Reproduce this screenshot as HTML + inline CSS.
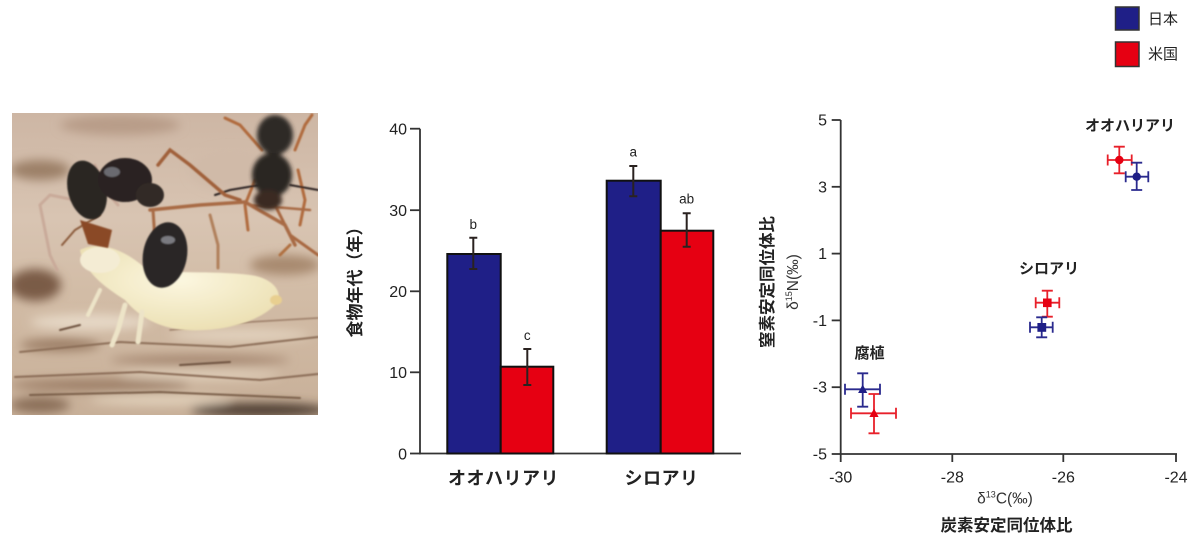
<!DOCTYPE html>
<html><head><meta charset="utf-8">
<style>
html,body{margin:0;padding:0;background:#fff;}
svg{display:block;}
text{font-family:"Liberation Sans","Noto Sans CJK JP",sans-serif;fill:#222;}
</style></head>
<body>
<svg width="1200" height="542" viewBox="0 0 1200 542" xmlns="http://www.w3.org/2000/svg">
<defs>
  <linearGradient id="bg" x1="0" y1="0" x2="0" y2="1">
    <stop offset="0" stop-color="#cdb6a4"/>
    <stop offset="0.35" stop-color="#d8c4b2"/>
    <stop offset="0.6" stop-color="#d2bca6"/>
    <stop offset="1" stop-color="#c8b099"/>
  </linearGradient>
  <radialGradient id="term" cx="0.5" cy="0.4" r="0.6">
    <stop offset="0" stop-color="#fcf7e0"/>
    <stop offset="1" stop-color="#ece0b4"/>
  </radialGradient>
  <filter id="b2"><feGaussianBlur stdDeviation="2"/></filter>
  <filter id="b5"><feGaussianBlur stdDeviation="5"/></filter>
  <filter id="b1"><feGaussianBlur stdDeviation="0.8"/></filter>
  <clipPath id="pc"><rect x="12" y="113" width="306" height="302"/></clipPath>
</defs>

<!-- PHOTO -->
<g clip-path="url(#pc)">
  <rect x="12" y="113" width="306" height="302" fill="url(#bg)"/>
  <g filter="url(#b5)">
    <ellipse cx="40" cy="170" rx="30" ry="10" fill="#9c8068"/>
    <ellipse cx="120" cy="125" rx="60" ry="10" fill="#b89c88"/>
    <ellipse cx="35" cy="285" rx="26" ry="16" fill="#7a5c46"/>
    <ellipse cx="230" cy="170" rx="40" ry="20" fill="#d0baa8"/>
    <ellipse cx="285" cy="265" rx="35" ry="10" fill="#a88a70"/>
    <ellipse cx="60" cy="345" rx="40" ry="6" fill="#9a7c64"/>
    <ellipse cx="200" cy="360" rx="90" ry="5" fill="#a48670"/>
    <ellipse cx="100" cy="385" rx="90" ry="6" fill="#9c7e66"/>
    <ellipse cx="260" cy="410" rx="70" ry="7" fill="#4e3c30"/>
    <ellipse cx="40" cy="405" rx="30" ry="8" fill="#8a6e58"/>
    <ellipse cx="90" cy="322" rx="60" ry="8" fill="#e6d8c6"/>
    <ellipse cx="240" cy="335" rx="70" ry="6" fill="#e2d2be"/>
    <ellipse cx="160" cy="400" rx="70" ry="5" fill="#e2d2bc"/>
    <ellipse cx="200" cy="375" rx="80" ry="5" fill="#e0cfba"/>
  </g>
  <g filter="url(#b1)" stroke-linecap="round" fill="none">
    <path d="M20 352 L120 342 L230 347 L318 337" stroke="#8c6e58" stroke-width="2"/>
    <path d="M15 377 L140 372 L260 380 L318 374" stroke="#8a6c56" stroke-width="2"/>
    <path d="M30 395 L160 392 L300 398" stroke="#7a5e4a" stroke-width="2"/>
    <path d="M170 330 L250 322 L318 318" stroke="#9a7c66" stroke-width="1.5"/>
    <path d="M60 330 L80 325" stroke="#6e5240" stroke-width="2"/>
    <path d="M180 365 L230 362" stroke="#6e5240" stroke-width="2"/>
    <!-- background ant legs -->
    <path d="M262 150 L240 125 L225 118" stroke="#b06a3c" stroke-width="3"/>
    <path d="M295 150 L305 125 L312 115" stroke="#b06a3c" stroke-width="3"/>
    <path d="M255 180 L245 205 L248 230" stroke="#b06a3c" stroke-width="3"/>
    <path d="M298 170 L305 200 L300 225" stroke="#b06a3c" stroke-width="3"/>
    <path d="M275 205 L290 235 L318 255" stroke="#a86840" stroke-width="3"/>
    <path d="M260 185 L230 190 L215 195" stroke="#2a2420" stroke-width="2"/>
    <path d="M290 185 L318 190" stroke="#2a2420" stroke-width="2"/>
    <!-- foreground ant legs -->
    <path d="M158 165 L170 150 L190 165 L225 195 L240 200" stroke="#a0603a" stroke-width="3.5"/>
    <path d="M150 210 L200 205 L245 202 L285 225 L295 245" stroke="#a86a44" stroke-width="3.5"/>
    <path d="M250 205 L310 210" stroke="#a86a44" stroke-width="2.5"/>
    <path d="M153 210 L155 240 L150 262" stroke="#a86a44" stroke-width="3"/>
    <path d="M210 215 L218 245 L218 268" stroke="#b0805c" stroke-width="3"/>
    <path d="M290 245 L280 255" stroke="#b07040" stroke-width="3"/>
    <!-- antennae -->
    <path d="M75 200 L50 195 L40 205 L50 255 L57 270" stroke="#c9aa9a" stroke-width="3"/>
    <path d="M95 165 L105 190 L118 205" stroke="#c9aa9a" stroke-width="3"/>
    <path d="M100 215 L75 230 L62 245" stroke="#8a5a3a" stroke-width="2"/>
  </g>
  <!-- background ant body -->
  <g filter="url(#b2)">
    <ellipse cx="275" cy="135" rx="18" ry="20" fill="#2e2a28"/>
    <ellipse cx="272" cy="175" rx="20" ry="22" fill="#2a2624"/>
    <ellipse cx="268" cy="200" rx="14" ry="10" fill="#3a2a24"/>
  </g>
  <!-- termite -->
  <g filter="url(#b1)">
    <path d="M80 250 C100 240 125 250 145 268 C170 275 210 270 250 275 C275 278 285 295 275 305 C255 325 215 332 185 330 C160 328 140 318 125 300 C110 290 85 275 80 250 Z" fill="url(#term)"/>
    <ellipse cx="100" cy="260" rx="20" ry="13" fill="#f4ecd4"/>
    <path d="M125 305 L118 330 L112 345" stroke="#ede4c8" stroke-width="5" fill="none" stroke-linecap="round"/>
    <path d="M142 312 L138 342" stroke="#ede4c8" stroke-width="5" fill="none" stroke-linecap="round"/>
    <path d="M100 290 L88 315" stroke="#ede4c8" stroke-width="4" fill="none" stroke-linecap="round"/>
    <ellipse cx="276" cy="300" rx="6" ry="5" fill="#e8cf90"/>
  </g>
  <!-- foreground ant body -->
  <g filter="url(#b1)">
    <ellipse cx="87" cy="190" rx="19" ry="30" fill="#2b2624" transform="rotate(-15 87 190)"/>
    <ellipse cx="125" cy="180" rx="27" ry="22" fill="#2a2420"/>
    <ellipse cx="150" cy="195" rx="14" ry="12" fill="#332a26"/>
    <ellipse cx="165" cy="255" rx="22" ry="33" fill="#2b2826" transform="rotate(10 165 255)"/>
    <path d="M80 220 L88 244 L108 248 L112 230 Z" fill="#8a4a28"/>
    <ellipse cx="112" cy="172" rx="8" ry="5" fill="#6a6a70"/>
    <ellipse cx="168" cy="240" rx="7" ry="4" fill="#7a7a80"/>
  </g>
</g>

<!-- BAR CHART -->
<g stroke="#333" stroke-width="1.8" fill="none">
  <line x1="420" y1="128.7" x2="420" y2="454.4"/>
  <line x1="419" y1="453.5" x2="741" y2="453.5"/>
  <line x1="410" y1="128.7" x2="420" y2="128.7"/>
  <line x1="410" y1="210.2" x2="420" y2="210.2"/>
  <line x1="410" y1="291.3" x2="420" y2="291.3"/>
  <line x1="410" y1="372.3" x2="420" y2="372.3"/>
  <line x1="410" y1="453.5" x2="420" y2="453.5"/>
</g>
<g font-size="16" text-anchor="end">
  <text x="407" y="134.5">40</text>
  <text x="407" y="216">30</text>
  <text x="407" y="297">20</text>
  <text x="407" y="378">10</text>
  <text x="407" y="459.3">0</text>
</g>
<g stroke="#111" stroke-width="2">
  <rect x="447.3" y="254" width="53.4" height="199.5" fill="#1f1f87"/>
  <rect x="500.7" y="366.7" width="52.6" height="86.8" fill="#e60012"/>
  <rect x="606.7" y="180.7" width="54" height="272.8" fill="#1f1f87"/>
  <rect x="660.7" y="230.7" width="52.6" height="222.8" fill="#e60012"/>
</g>
<g stroke="#2a2220" stroke-width="2" fill="none">
  <path d="M473.3 237.7V269 M469.3 237.7H477.3 M469.3 269H477.3"/>
  <path d="M527.3 349V385 M523.3 349H531.3 M523.3 385H531.3"/>
  <path d="M633.3 166V196.3 M629.3 166H637.3 M629.3 196.3H637.3"/>
  <path d="M686.7 213.3V246.7 M682.7 213.3H690.7 M682.7 246.7H690.7"/>
</g>
<g font-size="13.5" text-anchor="middle">
  <text x="473.3" y="229">b</text>
  <text x="527.3" y="340">c</text>
  <text x="633.3" y="156.5">a</text>
  <text x="686.7" y="203.5">ab</text>
</g>
<g font-size="18" font-weight="bold" text-anchor="middle">
  <text x="503.5" y="484.5" letter-spacing="0.5">オオハリアリ</text>
  <text x="661.5" y="484.5" letter-spacing="0.5">シロアリ</text>
</g>
<text x="0" y="0" font-size="17" font-weight="bold" text-anchor="middle" transform="translate(361 278) rotate(-90)">食物年代（年）</text>

<!-- SCATTER -->
<g stroke="#333" stroke-width="1.8" fill="none">
  <line x1="840.7" y1="120" x2="840.7" y2="454.5"/>
  <line x1="840" y1="454" x2="1177" y2="454"/>
  <line x1="831.7" y1="120" x2="840.7" y2="120"/>
  <line x1="831.7" y1="186.8" x2="840.7" y2="186.8"/>
  <line x1="831.7" y1="253.6" x2="840.7" y2="253.6"/>
  <line x1="831.7" y1="320.4" x2="840.7" y2="320.4"/>
  <line x1="831.7" y1="387.2" x2="840.7" y2="387.2"/>
  <line x1="831.7" y1="454" x2="840.7" y2="454"/>
  <line x1="840.7" y1="454" x2="840.7" y2="462"/>
  <line x1="952.3" y1="454" x2="952.3" y2="462"/>
  <line x1="1063.3" y1="454" x2="1063.3" y2="462"/>
  <line x1="1176" y1="454" x2="1176" y2="462"/>
</g>
<g font-size="16" text-anchor="end">
  <text x="827" y="125.5">5</text>
  <text x="827" y="192.3">3</text>
  <text x="827" y="259">1</text>
  <text x="827" y="326">-1</text>
  <text x="827" y="392.7">-3</text>
  <text x="827" y="459.5">-5</text>
</g>
<g font-size="16" text-anchor="middle">
  <text x="840.7" y="482.5">-30</text>
  <text x="952.3" y="482.5">-28</text>
  <text x="1063.3" y="482.5">-26</text>
  <text x="1176" y="482.5">-24</text>
</g>
<text x="1005" y="503.5" font-size="15.5" text-anchor="middle" style="fill:#333">δ<tspan font-size="9" dy="-6">13</tspan><tspan dy="6">C(‰)</tspan></text>
<text x="1006.5" y="531" font-size="16.5" font-weight="bold" text-anchor="middle">炭素安定同位体比</text>
<text x="0" y="0" font-size="16.5" font-weight="bold" text-anchor="middle" transform="translate(773 282) rotate(-90)">窒素安定同位体比</text>
<text x="0" y="0" font-size="15.5" text-anchor="middle" transform="translate(798 282) rotate(-90)" style="fill:#333">δ<tspan font-size="9" dy="-6">15</tspan><tspan dy="6">N(‰)</tspan></text>

<g font-size="15" font-weight="bold" text-anchor="middle">
  <text x="1130" y="130.5">オオハリアリ</text>
  <text x="1049" y="273.5">シロアリ</text>
  <text x="869.5" y="358">腐植</text>
</g>

<!-- error bars -->
<g stroke-width="1.8" fill="none">
  <g stroke="#e8202a">
    <path d="M1107.7 160H1131.7 M1107.7 154.5V165.5 M1131.7 154.5V165.5 M1119.3 146.7V173.3 M1113.8 146.7H1124.8 M1113.8 173.3H1124.8"/>
    <path d="M1035.7 302.7H1059.3 M1035.7 297.2V308.2 M1059.3 297.2V308.2 M1047.3 290.7V316.7 M1041.8 290.7H1052.8 M1041.8 316.7H1052.8"/>
    <path d="M851 413.3H896 M851 407.8V418.8 M896 407.8V418.8 M874 394V433.3 M868.5 394H879.5 M868.5 433.3H879.5"/>
  </g>
  <g stroke="#2a2a8e">
    <path d="M1125.7 176.7H1148.3 M1125.7 171.2V182.2 M1148.3 171.2V182.2 M1136.7 162.7V190 M1131.2 162.7H1142.2 M1131.2 190H1142.2"/>
    <path d="M1030 327.3H1052.7 M1030 321.8V332.8 M1052.7 321.8V332.8 M1041.7 317.3V337.3 M1036.2 317.3H1047.2 M1036.2 337.3H1047.2"/>
    <path d="M845 389.3H880 M845 383.8V394.8 M880 383.8V394.8 M862.7 373.3V406.7 M857.2 373.3H868.2 M857.2 406.7H868.2"/>
  </g>
</g>
<!-- markers -->
<circle cx="1119.3" cy="160" r="4.2" fill="#e60012"/>
<circle cx="1136.7" cy="176.7" r="4.2" fill="#1f1f87"/>
<rect x="1043" y="298.5" width="8.6" height="8.6" fill="#e60012"/>
<rect x="1037.4" y="323" width="8.8" height="8.8" fill="#1f1f87"/>
<polygon points="862.7,384.5 867.3,393 858.1,393" fill="#1f1f87"/>
<polygon points="874,408.5 878.6,417 869.4,417" fill="#e60012"/>

<!-- LEGEND -->
<rect x="1115.5" y="7" width="23.5" height="23" fill="#1f1f87" stroke="#333" stroke-width="1.5"/>
<rect x="1115.5" y="42" width="23.5" height="24.5" fill="#e60012" stroke="#333" stroke-width="1.5"/>
<g font-size="15">
  <text x="1148" y="24">日本</text>
  <text x="1148" y="59">米国</text>
</g>
</svg>
</body></html>
